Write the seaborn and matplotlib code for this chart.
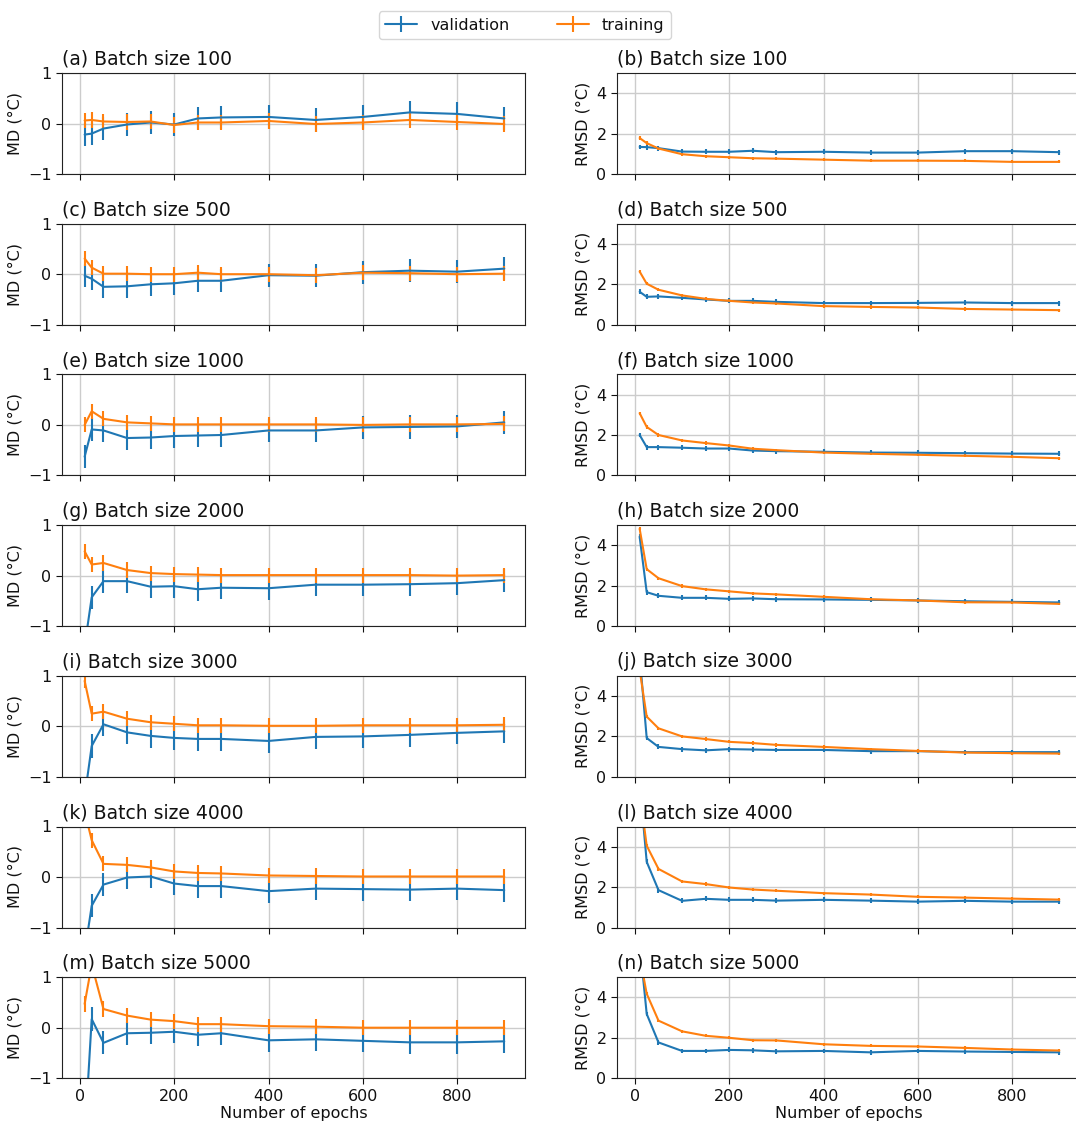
import matplotlib
matplotlib.use('Agg')

import numpy as np
import matplotlib.pyplot as plt
import seaborn as sns

epochs = [10, 25, 50, 100, 150, 200, 250, 300, 400, 500, 600, 700, 800, 900]
batch_sizes = [100, 500, 1000, 2000, 3000, 4000, 5000]

# mean difference (MD), one list per batch size
md_val = [
    [-0.22, -0.20, -0.10, -0.02, 0.02, -0.02, 0.10, 0.12, 0.13, 0.07, 0.13, 0.22, 0.19, 0.10],
    [-0.03, -0.09, -0.25, -0.24, -0.20, -0.18, -0.13, -0.13, -0.02, -0.03, 0.04, 0.07, 0.05, 0.11],
    [-0.63, -0.09, -0.11, -0.26, -0.25, -0.22, -0.21, -0.20, -0.11, -0.11, -0.05, -0.04, -0.03, 0.05],
    [-1.40, -0.43, -0.11, -0.11, -0.22, -0.21, -0.27, -0.24, -0.25, -0.18, -0.18, -0.17, -0.15, -0.09],
    [-1.40, -0.39, 0.04, -0.12, -0.19, -0.23, -0.25, -0.25, -0.29, -0.21, -0.20, -0.17, -0.13, -0.10],
    [-1.50, -0.57, -0.15, -0.01, 0.01, -0.13, -0.18, -0.18, -0.28, -0.23, -0.24, -0.25, -0.23, -0.26],
    [-2.20, 0.17, -0.30, -0.11, -0.10, -0.08, -0.14, -0.11, -0.25, -0.23, -0.26, -0.29, -0.29, -0.27],
]
md_train = [
    [0.06, 0.07, 0.04, 0.03, 0.04, -0.03, 0.02, 0.02, 0.05, -0.01, 0.02, 0.07, 0.03, -0.01],
    [0.31, 0.13, 0.01, 0.01, 0.00, 0.00, 0.03, 0.00, 0.00, -0.02, 0.03, 0.02, 0.00, 0.01],
    [0.00, 0.27, 0.12, 0.05, 0.03, 0.01, 0.01, 0.01, 0.01, 0.01, 0.00, 0.01, 0.01, 0.02],
    [0.48, 0.22, 0.25, 0.11, 0.05, 0.03, 0.02, 0.01, 0.01, 0.01, 0.01, 0.01, 0.00, 0.01],
    [0.90, 0.25, 0.29, 0.15, 0.08, 0.05, 0.02, 0.02, 0.01, 0.01, 0.02, 0.02, 0.02, 0.03],
    [1.30, 0.73, 0.26, 0.24, 0.19, 0.11, 0.08, 0.07, 0.03, 0.02, 0.01, 0.01, 0.01, 0.01],
    [0.47, 1.25, 0.37, 0.24, 0.16, 0.13, 0.07, 0.07, 0.03, 0.02, 0.00, 0.00, 0.00, 0.00],
]
md_val_err = [0.23] * 7
md_train_err = [0.15] * 7

# root mean square difference (RMSD)
rmsd_val = [
    [1.34, 1.33, 1.28, 1.11, 1.10, 1.10, 1.15, 1.08, 1.10, 1.06, 1.06, 1.13, 1.13, 1.08],
    [1.63, 1.38, 1.40, 1.33, 1.25, 1.18, 1.18, 1.13, 1.07, 1.07, 1.08, 1.10, 1.07, 1.07],
    [2.00, 1.40, 1.40, 1.37, 1.33, 1.33, 1.23, 1.20, 1.17, 1.13, 1.12, 1.10, 1.08, 1.07],
    [4.43, 1.68, 1.50, 1.40, 1.40, 1.35, 1.37, 1.33, 1.32, 1.30, 1.27, 1.23, 1.20, 1.17],
    [6.00, 1.92, 1.48, 1.37, 1.31, 1.37, 1.35, 1.33, 1.33, 1.27, 1.27, 1.22, 1.22, 1.22],
    [7.20, 3.25, 1.85, 1.32, 1.42, 1.37, 1.37, 1.33, 1.37, 1.33, 1.28, 1.32, 1.28, 1.28],
    [6.70, 3.18, 1.77, 1.35, 1.35, 1.40, 1.38, 1.33, 1.35, 1.28, 1.35, 1.32, 1.30, 1.28],
]
rmsd_train = [
    [1.78, 1.53, 1.26, 0.98, 0.88, 0.83, 0.78, 0.76, 0.71, 0.66, 0.66, 0.65, 0.60, 0.60],
    [2.63, 2.03, 1.73, 1.45, 1.28, 1.18, 1.10, 1.05, 0.92, 0.88, 0.85, 0.78, 0.75, 0.72],
    [3.08, 2.40, 2.00, 1.73, 1.60, 1.48, 1.32, 1.25, 1.13, 1.07, 1.02, 0.97, 0.92, 0.85],
    [4.82, 2.82, 2.37, 1.98, 1.82, 1.72, 1.62, 1.57, 1.45, 1.33, 1.27, 1.18, 1.17, 1.10],
    [5.30, 2.98, 2.40, 2.00, 1.87, 1.73, 1.67, 1.58, 1.48, 1.37, 1.28, 1.20, 1.17, 1.15],
    [6.70, 4.05, 2.90, 2.28, 2.15, 1.98, 1.88, 1.82, 1.70, 1.63, 1.52, 1.48, 1.43, 1.38],
    [6.07, 4.18, 2.85, 2.32, 2.10, 2.00, 1.88, 1.87, 1.68, 1.60, 1.57, 1.50, 1.42, 1.37],
]
rmsd_val_err = [0.12] * 7
rmsd_train_err = [0.08] * 7

letters = 'abcdefghijklmn'

sns.set_style('ticks', {'axes.grid': True, 'grid.color': '#cccccc',
                        'text.color': '#111111', 'axes.labelcolor': '#111111',
                        'xtick.color': '#111111', 'ytick.color': '#111111',
                        'axes.edgecolor': '#222222'})
plt.rcParams['font.family'] = ['DejaVu Sans']
pal = sns.color_palette('tab10')
c_val, c_train = pal[0], pal[1]

W, H = 1076, 1126
fig = plt.figure(figsize=(W / 100, H / 100), dpi=100)

for i, bs in enumerate(batch_sizes):
    bottom = 1 - (73 + 150.7 * i + 101) / H
    ax_md = fig.add_axes([62 / W, bottom, 463 / W, 101 / H])
    ax_rm = fig.add_axes([617 / W, bottom, 463 / W, 101 / H])

    h1 = ax_md.errorbar(epochs, md_val[i], yerr=md_val_err[i], color=c_val, lw=1.5, label='validation')
    h2 = ax_md.errorbar(epochs, md_train[i], yerr=md_train_err[i], color=c_train, lw=1.5, label='training')
    ax_rm.errorbar(epochs, rmsd_val[i], yerr=rmsd_val_err[i], color=c_val, lw=1.5)
    ax_rm.errorbar(epochs, rmsd_train[i], yerr=rmsd_train_err[i], color=c_train, lw=1.5)

    ax_md.set_ylim(-1, 1)
    ax_md.set_yticks([-1, 0, 1])
    ax_rm.set_ylim(0, 5)
    ax_rm.set_yticks([0, 2, 4])
    ax_md.set_ylabel('MD (°C)', fontsize=11.5)
    ax_rm.set_ylabel('RMSD (°C)', fontsize=11.5)
    ax_md.set_title('(%s) Batch size %d' % (letters[2 * i], bs), loc='left', fontsize=13.5)
    ax_rm.set_title('(%s) Batch size %d' % (letters[2 * i + 1], bs), loc='left', fontsize=13.5)

    for ax in (ax_md, ax_rm):
        ax.set_xlim(-38, 944)
        ax.set_xticks([0, 200, 400, 600, 800])
        ax.tick_params(labelsize=11.5, direction='out', length=4)
        ax.grid(True, color='#cccccc', lw=1)
        if i < len(batch_sizes) - 1:
            ax.tick_params(labelbottom=False)
        else:
            ax.set_xlabel('Number of epochs', fontsize=11.5, labelpad=2)

fig.legend([h1, h2], ['validation', 'training'], loc='upper center',
           bbox_to_anchor=(0.488, 0.997), ncol=2, fontsize=11.5, frameon=True,
           columnspacing=3)

fig.savefig('out.png', dpi=100)
